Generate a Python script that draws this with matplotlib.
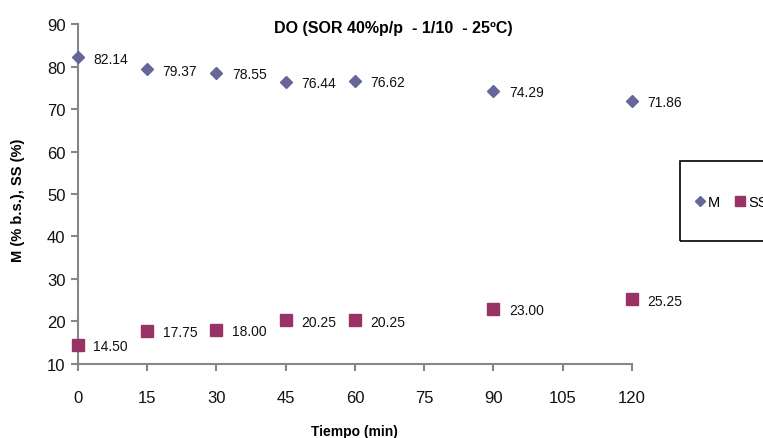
import matplotlib
matplotlib.use("Agg")
import matplotlib.pyplot as plt
from matplotlib.patches import Rectangle
from matplotlib.lines import Line2D

plt.rcParams['font.family'] = ['Liberation Sans', 'DejaVu Sans']

# datos
tiempo = [0, 15, 30, 45, 60, 90, 120]
m_vals = [82.14, 79.37, 78.55, 76.44, 76.62, 74.29, 71.86]
ss_vals = [14.50, 17.75, 18.00, 20.25, 20.25, 23.00, 25.25]
x_ticks = [0, 15, 30, 45, 60, 75, 90, 105, 120]
y_ticks = [10, 20, 30, 40, 50, 60, 70, 80, 90]

color_m = '#666699'
color_ss = '#993366'

fig = plt.figure(figsize=(7.63, 4.39), dpi=100)
ax = fig.add_axes([0.1022, 0.1686, 0.7261, 0.7744])

ax.plot(tiempo, m_vals, linestyle='none', marker='D', color=color_m, ms=5.8, clip_on=False, zorder=3)
ax.plot(tiempo, ss_vals, linestyle='none', marker='s', color=color_ss, ms=8, clip_on=False, zorder=3)

# etiquetas de datos
for x, y in zip(tiempo, m_vals):
    ax.annotate(f"{y:.2f}", (x, y), xytext=(11, -1), textcoords='offset points',
                va='center', ha='left', fontsize=10, color='#111111')
for x, y in zip(tiempo, ss_vals):
    ax.annotate(f"{y:.2f}", (x, y), xytext=(11, -1), textcoords='offset points',
                va='center', ha='left', fontsize=10, color='#111111')

ax.set_xlim(0, 120)
ax.set_ylim(10, 90)
ax.set_xticks(x_ticks)
ax.set_yticks(y_ticks)
ax.tick_params(axis='both', direction='out', color='#868686', length=5, width=1.5,
               labelsize=12, labelcolor='#111111')
ax.tick_params(axis='x', pad=14)
ax.tick_params(axis='y', pad=4)
for side in ['top', 'right']:
    ax.spines[side].set_visible(False)
for side in ['left', 'bottom']:
    ax.spines[side].set_color('#868686')
    ax.spines[side].set_linewidth(1.5)
ax.patch.set_alpha(0)

fig.text(0.516, 0.936, "DO (SOR 40%p/p  - 1/10  - 25ºC)", ha='center', va='center',
         fontsize=11.5, fontweight='bold')
fig.text(0.465, 0.015, "Tiempo (min)", ha='center', va='center', fontsize=10, fontweight='bold')
fig.text(0.024, 0.544, "M (% b.s.), SS (%)", ha='center', va='center', rotation=90,
         fontsize=10.5, fontweight='bold')

# caja de la leyenda (sale del borde derecho como en el original)
fig.patches.append(Rectangle((680 / 763, 1 - 242 / 439), 0.2, 80 / 439,
                             transform=fig.transFigure, fill=False,
                             edgecolor='black', linewidth=1.2))
handles = [Line2D([], [], linestyle='none', marker='D', color=color_m, ms=5),
           Line2D([], [], linestyle='none', marker='s', color=color_ss, ms=7)]
leg = fig.legend(handles, ['M', 'SS'], loc='center left',
                 bbox_to_anchor=(695 / 763, 1 - 203 / 439), ncol=2, frameon=False,
                 fontsize=10.5, handletextpad=0.2, columnspacing=1.0, handlelength=0.7,
                 borderpad=0, borderaxespad=0)

fig.savefig("out.png", dpi=100)
